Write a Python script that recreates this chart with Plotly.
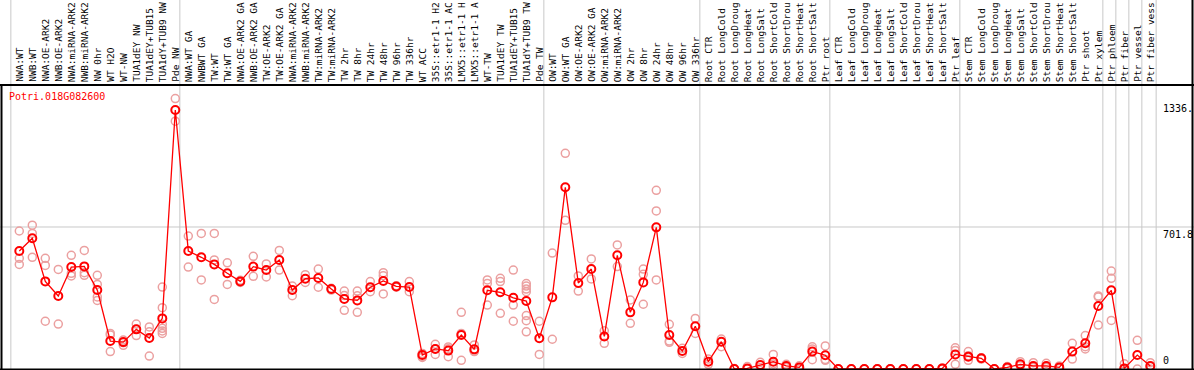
import plotly.graph_objects as go

W, H = 1194, 370

labels = [
    "NWA:WT", "NWB:WT", "NWA:OE-ARK2", "NWB:OE-ARK2", "NWA:miRNA-ARK2", "NWB:miRNA-ARK2",
    "NW 0hr", "WT H2O", "WT-NW", "TUA1dEY NW", "TUA1dEY+TUB15", "TUA1dY+TUB9 NW", "Pde NW",
    "NWA:WT GA", "NWBWT GA", "TW:WT", "TW:WT GA", "NWA:OE-ARK2 GA", "NWB:OE-ARK2 GA",
    "TW:OE-ARK2", "TW:OE-ARK2 GA", "NWA:miRNA-ARK2", "NWB:miRNA-ARK2", "TW:miRNA-ARK2",
    "TW:miRNA-ARK2", "TW 2hr", "TW 8hr", "TW 24hr", "TW 48hr", "TW 96hr", "TW 336hr",
    "WT ACC", "35S::etr1-1 H2", "35S::etr1-1 AC", "LMX5::etr1-1 H", "LMX5::etr1-1 A",
    "WT-TW", "TUA1dEY TW", "TUA1dEY+TUB15", "TUA1dY+TUB9 TW", "Pde TW",
    "OW:WT", "OW:WT GA", "OW:OE-ARK2", "OW:OE-ARK2 GA", "OW:miRNA-ARK2", "OW:miRNA-ARK2",
    "OW 2hr", "OW 8hr", "OW 24hr", "OW 48hr", "OW 96hr", "OW 336hr",
    "Root CTR", "Root LongCold", "Root LongDroug", "Root LongHeat", "Root LongSalt",
    "Root ShortCold", "Root ShortDrou", "Root ShortHeat", "Root ShortSalt", "Ptr root",
    "Leaf CTR", "Leaf LongCold", "Leaf LongDroug", "Leaf LongHeat", "Leaf LongSalt",
    "Leaf ShortCold", "Leaf ShortDrou", "Leaf ShortHeat", "Leaf ShortSalt", "Ptr leaf",
    "Stem CTR", "Stem LongCold", "Stem LongDroug", "Stem LongHeat", "Stem LongSalt",
    "Stem ShortCold", "Stem ShortDrou", "Stem ShortHeat", "Stem ShortSalt", "Ptr shoot",
    "Ptr xylem", "Ptr phloem", "Ptr fiber", "Ptr vessel", "Ptr fiber vess",
]

means = [
    583, 646, 433, 361, 504, 507, 390, 138, 133, 196, 153, 250, 1280,
    583, 552, 517, 473, 433, 506, 489, 539, 390, 446, 450, 395, 346, 339, 404, 435, 408, 405,
    69, 99, 91, 168, 97, 389, 379, 352, 336, 152,
    354, 898, 425, 494, 161, 562, 280, 428, 700, 168, 89, 211,
    36, 135, 0, 3, 20, 36, 15, 8, 86, 68,
    0, 0, 0, 0, 0, 0, 0, 0, 3, 72,
    61, 53, 0, 8, 23, 15, 15, 8, 86, 127, 311,
    389, 3, 69, 15,
]

replicates = [
    [682, 547, 517], [711, 670, 552], [547, 512, 236], [492, 222], [562, 473, 460],
    [586, 476, 463], [463, 418, 356, 339], [176, 168, 86], [143, 130, 117], [222, 196, 165],
    [208, 184, 64], [405, 303, 221, 201, 188, 176], [1336.7, 1225],
    [657, 504], [670, 440], [670, 539, 344], [525, 418], [438, 428], [557, 458],
    [519, 455], [586, 489], [410, 362], [466, 428], [494, 404], [399, 390],
    [385, 363, 290], [385, 362, 280], [432, 382], [476, 461, 371], [412, 404], [432, 382],
    [77, 61, 57], [122, 99, 72], [109, 100, 61], [280, 176, 43], [119, 88, 86],
    [440, 423, 316], [448, 432, 275], [489, 316, 236], [422, 410, 395, 382, 264, 239, 184],
    [236, 72],
    [573, 147], [1066, 735], [460, 385], [544, 445], [189, 127], [613, 506], [341, 226],
    [494, 468, 320], [883, 781, 440], [221, 138, 132], [102, 77], [250, 176],
    [49, 23], [148, 110], [3, 0], [12, 0], [33, 7], [72, 25, 12], [23, 7], [16, 0],
    [110, 99, 46], [114, 47, 43],
    [0, 0], [0, 0], [0, 0], [0, 0], [0, 0], [0, 0], [0, 0], [0, 0], [5, 0], [105, 92, 23],
    [86, 66, 43], [56, 49], [0, 0], [12, 3], [36, 16], [31, 7], [28, 7], [15, 3],
    [127, 49], [165, 110, 99], [361, 356, 217],
    [484, 448, 240], [26, 0, 0], [142, 0], [31, 12, 0],
]

group_starts = [0, 13, 41, 53, 63, 73, 84, 85, 86, 87, 88]
title_text = "Potri.018G082600"
ytick_vals = [1336.7, 701.8, 0]
ytick_text = ["1336.", "701.8", "0"]

ymax = max(max(r) for r in replicates) * 1.05

# geometry (pixels)
plot_top, plot_bottom = 85, 369
col_w, col0_px = 13.0, 19.3
x0 = -col0_px / col_w
x1 = x0 + W / col_w

def py(p):
    return 1 - p / H

xs = list(range(len(labels)))
rep_x = [i for i, r in enumerate(replicates) for _ in r]
rep_y = [v for r in replicates for v in r]

fig = go.Figure()
fig.add_trace(go.Scatter(
    x=rep_x, y=rep_y, mode="markers",
    marker=dict(symbol="circle-open", size=8, color="#EBA0A0", line=dict(width=1.5)),
    hoverinfo="skip", showlegend=False))
fig.add_trace(go.Scatter(
    x=xs, y=means, mode="lines+markers",
    line=dict(color="#FF0000", width=1.3),
    marker=dict(symbol="circle-open", size=8, color="#FF0000", line=dict(width=2)),
    showlegend=False))

shapes = []
for g in group_starts:
    xb = g - 0.65 if g < len(labels) else g - 0.55
    shapes.append(dict(type="line", xref="x", yref="paper", x0=xb, x1=xb, y0=0, y1=1,
                       line=dict(color="#C8C8C8", width=1), layer="below"))
shapes.append(dict(type="line", xref="paper", yref="y", x0=0, x1=1, y0=ytick_vals[1], y1=ytick_vals[1],
                   line=dict(color="#C8C8C8", width=1), layer="below"))
blk = dict(color="black", width=2)
shapes.append(dict(type="line", xref="paper", yref="paper", x0=0, x1=1, y0=py(plot_top), y1=py(plot_top), line=blk))
shapes.append(dict(type="line", xref="paper", yref="paper", x0=0, x1=1, y0=py(plot_bottom + 0.5), y1=py(plot_bottom + 0.5), line=blk))
shapes.append(dict(type="line", xref="paper", yref="paper", x0=1.5 / W, x1=1.5 / W, y0=py(plot_bottom), y1=py(plot_top), line=blk))
shapes.append(dict(type="line", xref="paper", yref="paper", x0=1192.5 / W, x1=1192.5 / W, y0=0, y1=1, line=blk))

mono = "DejaVu Sans Mono, monospace"
annotations = []
for i, lab in enumerate(labels):
    annotations.append(dict(x=i, xref="x", y=py(plot_top), yref="paper", text=lab, textangle=-90,
                            showarrow=False, xanchor="center", yanchor="bottom", yshift=1,
                            font=dict(family=mono, size=9.5, color="black")))
annotations.append(dict(x=7 / W, xref="paper", y=py(89), yref="paper", text=title_text,
                        showarrow=False, xanchor="left", yanchor="top",
                        font=dict(family=mono, size=10, color="#FF0000")))
for v, t, ya, ys in zip(ytick_vals, ytick_text, ["top", "top", "bottom"], [-2, 0, 1]):
    annotations.append(dict(x=1161 / W, xref="paper", y=v, yref="y", text=t, showarrow=False,
                            xanchor="left", yanchor=ya, yshift=ys,
                            font=dict(family=mono, size=10, color="black")))

fig.update_layout(
    width=W, height=H, margin=dict(l=0, r=0, t=0, b=0),
    paper_bgcolor="white", plot_bgcolor="white",
    xaxis=dict(range=[x0, x1], domain=[0, 1], visible=False, fixedrange=True),
    yaxis=dict(range=[0, ymax], domain=[py(plot_bottom), py(plot_top)], visible=False, fixedrange=True),
    shapes=shapes, annotations=annotations, showlegend=False,
)
fig.write_html("out.html", config={"displayModeBar": False},
               post_script="document.body.style.margin='0';document.body.style.overflow='hidden';")
